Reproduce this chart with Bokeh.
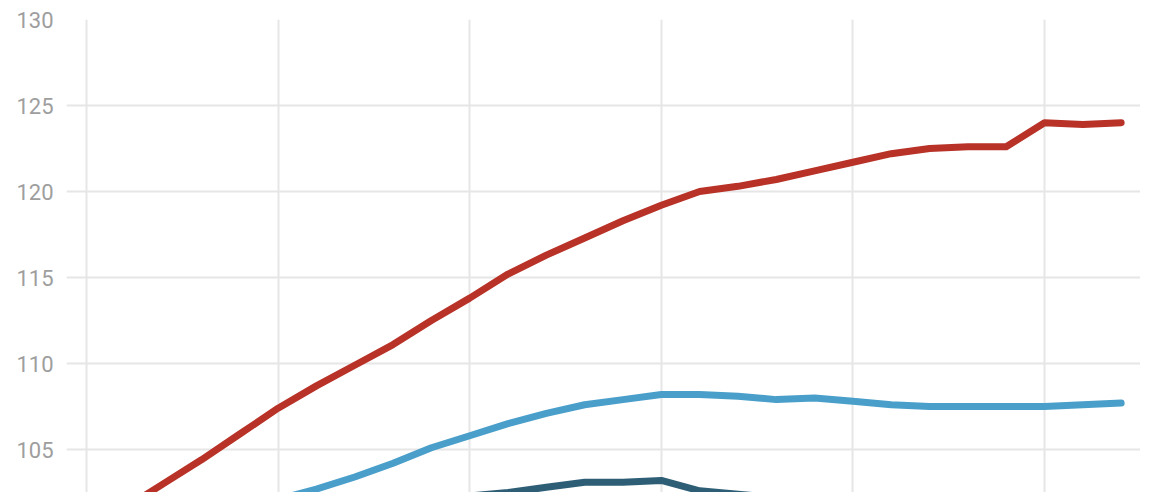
from bokeh.plotting import figure
from bokeh.models import FixedTicker, Range1d
from bokeh.embed import file_html
from bokeh.resources import INLINE

# period index (x axis labels are not visible in the reference)
periods = list(range(28))

red_series = [100.1, 101.6, 103.0, 104.4, 105.9, 107.4, 108.7, 109.9, 111.1, 112.5,
              113.8, 115.2, 116.3, 117.3, 118.3, 119.2, 120.0, 120.3, 120.7, 121.2,
              121.7, 122.2, 122.5, 122.6, 122.6, 124.0, 123.9, 124.0]

light_blue_series = [99.9, 100.3, 100.7, 101.1, 101.6, 102.1, 102.7, 103.4, 104.2, 105.1,
                     105.8, 106.5, 107.1, 107.6, 107.9, 108.2, 108.2, 108.1, 107.9, 108.0,
                     107.8, 107.6, 107.5, 107.5, 107.5, 107.5, 107.6, 107.7]

dark_blue_series = [99.8, 100.1, 100.4, 100.7, 101.0, 101.2, 101.4, 101.6, 101.9, 102.1,
                    102.3, 102.5, 102.8, 103.1, 103.1, 103.2, 102.6, 102.4, 102.2, 101.9,
                    101.6, 101.3, 101.0, 100.8, 100.6, 100.5, 100.3, 100.2]

y_ticks = [100, 105, 110, 115, 120, 125, 130]
x_grid_ticks = [0, 5, 10, 15, 20, 25]

p = figure(width=1140, height=492, output_backend="svg", toolbar_location=None,
           x_axis_location=None,
           x_range=Range1d(-0.522, 27.505), y_range=Range1d(102.5, 130),
           min_border_left=66, min_border_right=0, min_border_top=19, min_border_bottom=0)
p.outline_line_color = None
p.background_fill_color = "white"
p.border_fill_color = "white"

p.yaxis.ticker = FixedTicker(ticks=y_ticks)
p.yaxis.axis_line_color = None
p.yaxis.major_tick_line_color = None
p.yaxis.minor_tick_line_color = None
p.yaxis.major_tick_out = 0
p.yaxis.major_tick_in = 0
p.yaxis.major_label_standoff = 13
p.yaxis.major_label_text_font = "Roboto"
p.yaxis.major_label_text_font_size = "22px"
p.yaxis.major_label_text_color = "#9e9e9e"

p.ygrid.ticker = FixedTicker(ticks=y_ticks)
p.ygrid.grid_line_color = "#e6e6e6"
p.ygrid.grid_line_width = 2
p.xgrid.ticker = FixedTicker(ticks=x_grid_ticks)
p.xgrid.grid_line_color = "#e6e6e6"
p.xgrid.grid_line_width = 2

for ys, col in [(dark_blue_series, "#2e5e76"), (light_blue_series, "#4a9fca"), (red_series, "#b83228")]:
    p.line(periods, ys, line_color=col, line_width=7, line_cap="round", line_join="round")

open("out.html", "w").write(file_html(p, INLINE))
